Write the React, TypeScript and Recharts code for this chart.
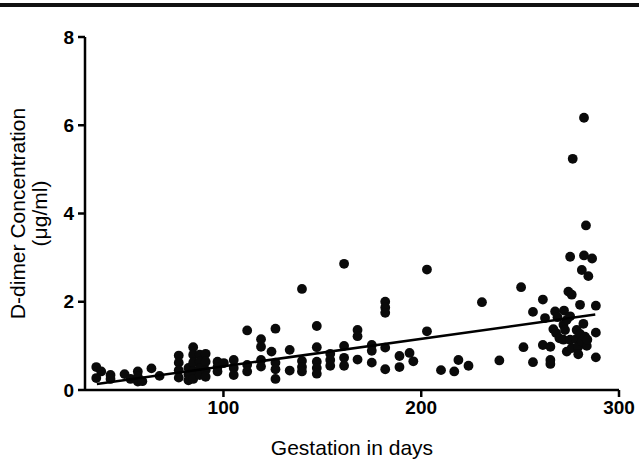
import React from 'react';
import { ScatterChart, Scatter, XAxis, YAxis, Label } from 'recharts';

const gestationDays = [
  35.7, 38.2, 35.7, 42.9, 42.9, 50, 53, 56.7, 56.7, 56.7, 59, 63.6, 67.7,
  77.4, 77.4, 77.4, 77.4,
  82.3, 82.3, 82.3,
  84.7, 84.7, 84.7, 84.7, 84.7,
  88, 88, 88, 88,
  91, 91, 91, 91,
  97, 97, 97, 100.2,
  105.2, 105.2, 105.2,
  112, 112, 112,
  119, 119, 119, 119,
  124.3, 126.3, 126.3, 126.3, 126.3,
  133.5, 133.5,
  139.7, 139.7, 139.7, 139.7,
  147.2, 147.2, 147.2, 147.2, 147.2,
  154, 154, 154,
  161, 161, 161, 161,
  167.8, 167.8, 167.8,
  175, 175, 175,
  181.8, 181.8, 181.8, 181.8, 181.8,
  189, 189, 194.1, 196,
  202.9, 202.9, 210, 216.7, 218.8, 223.9, 230.7, 239.5,
  250.5, 251.7, 256.5, 256.5, 261.5, 261.5, 262.6,
  265.3, 265.3, 265.3, 266.8, 267.7, 268.2, 268.9, 269.9,
  271.9, 271.9, 272.2, 272.7, 273.6, 273.6,
  274.4, 275.3, 275.3, 275.3, 276.1, 276.1, 276.6,
  278.3, 278.6, 279.4, 279.4, 280.3, 280.3, 281.2, 281.2, 282,
  282.3, 282.3, 282.8, 283.3, 283.7, 284, 284.5, 286.4,
  288.3, 288.3, 288.3,
];

const dDimer = [
  0.52, 0.42, 0.27, 0.34, 0.25, 0.36, 0.25, 0.42, 0.3, 0.19, 0.2, 0.49, 0.32,
  0.78, 0.62, 0.45, 0.28,
  0.5, 0.35, 0.22,
  0.97, 0.8, 0.62, 0.43, 0.25,
  0.8, 0.64, 0.49, 0.34,
  0.82, 0.64, 0.45, 0.3,
  0.64, 0.52, 0.42, 0.61,
  0.68, 0.5, 0.34,
  1.35, 0.57, 0.42,
  1.15, 0.98, 0.68, 0.53,
  0.87, 1.39, 0.62, 0.47, 0.25,
  0.91, 0.44,
  2.29, 0.66, 0.52, 0.42,
  1.45, 0.97, 0.64, 0.5, 0.37,
  0.82, 0.68, 0.55,
  2.86, 1.0, 0.73, 0.55,
  1.36, 1.22, 0.69,
  1.02, 0.89, 0.62,
  2.0, 1.87, 1.75, 0.96, 0.47,
  0.77, 0.52, 0.84, 0.65,
  2.73, 1.33, 0.45, 0.42, 0.68, 0.55, 1.99, 0.67,
  2.33, 0.97, 1.77, 0.63, 2.05, 1.02, 1.63,
  0.98, 0.68, 0.59, 1.38, 1.78, 1.29, 1.65, 1.17,
  1.48, 1.14, 1.8, 1.36, 1.59, 0.87,
  2.23, 3.02, 1.67, 1.14, 2.16, 0.95, 5.24,
  1.15, 1.36, 0.98, 0.81, 1.93, 1.27, 2.72, 1.1, 1.5,
  6.17, 3.05, 1.21, 3.73, 1.0, 1.14, 2.58, 2.98,
  1.91, 1.3, 0.74,
];

const fitDays = [36, 288];
const fitValues = [0.135, 1.71];

const xTicks = [100, 200, 300];
const yTicks = [0, 2, 4, 6, 8];

const points = gestationDays.map((d, i) => ({ x: d, y: dDimer[i] }));
const fitLine = fitDays.map((d, i) => ({ x: d, y: fitValues[i] }));

const FONT = '"Liberation Sans", Arial, Helvetica, sans-serif';

const Dot = (props: any) => (
  <circle cx={props.cx} cy={props.cy} r={4.9} fill="#0a0a0a" />
);

const NoDot = () => <g />;

export default function App() {
  return (
    <div style={{ position: 'absolute', left: 0, top: 0, width: 639, height: 465, background: '#fff' }}>
      <div style={{ position: 'absolute', left: 0, top: 3, width: 639, height: 4, background: '#111' }} />
      <ScatterChart
        width={639}
        height={465}
        margin={{ top: 37, right: 20, bottom: 0, left: 0 }}
        style={{ position: 'absolute', left: 0, top: 0 }}
      >
        <XAxis
          type="number"
          dataKey="x"
          domain={[30, 300]}
          ticks={xTicks}
          allowDataOverflow
          height={75}
          tickSize={7}
          tickMargin={4}
          axisLine={{ stroke: '#000', strokeWidth: 2.5 }}
          tickLine={{ stroke: '#000', strokeWidth: 2.5 }}
          tick={{ fill: '#000', fontSize: 19, fontWeight: 'bold', fontFamily: FONT }}
        >
          <Label
            content={(p: any) => {
              const vb = p.viewBox || {};
              return (
                <text
                  x={vb.x + vb.width / 2}
                  y={455}
                  textAnchor="middle"
                  fontSize={21}
                  fontFamily={FONT}
                  fill="#000"
                >
                  Gestation in days
                </text>
              );
            }}
          />
        </XAxis>
        <YAxis
          type="number"
          dataKey="y"
          domain={[0, 8]}
          ticks={yTicks}
          width={85}
          tickSize={7}
          tickMargin={4}
          axisLine={{ stroke: '#000', strokeWidth: 2.5 }}
          tickLine={{ stroke: '#000', strokeWidth: 2.5 }}
          tick={{ fill: '#000', fontSize: 19, fontWeight: 'bold', fontFamily: FONT }}
        >
          <Label
            content={(p: any) => {
              const vb = p.viewBox || {};
              const cy = vb.y + vb.height / 2;
              return (
                <g>
                  <text
                    x={0}
                    y={0}
                    transform={`translate(25, ${cy}) rotate(-90)`}
                    textAnchor="middle"
                    fontSize={21}
                    fontFamily={FONT}
                    fill="#000"
                  >
                    D-dimer Concentration
                  </text>
                  <text
                    x={0}
                    y={0}
                    transform={`translate(47, ${cy}) rotate(-90)`}
                    textAnchor="middle"
                    fontSize={21}
                    fontFamily={FONT}
                    fill="#000"
                  >
                    (μg/ml)
                  </text>
                </g>
              );
            }}
          />
        </YAxis>
        <Scatter data={points} shape={Dot} isAnimationActive={false} />
        <Scatter
          data={fitLine}
          shape={NoDot}
          line={{ stroke: '#000', strokeWidth: 2.5 }}
          isAnimationActive={false}
        />
      </ScatterChart>
    </div>
  );
}
